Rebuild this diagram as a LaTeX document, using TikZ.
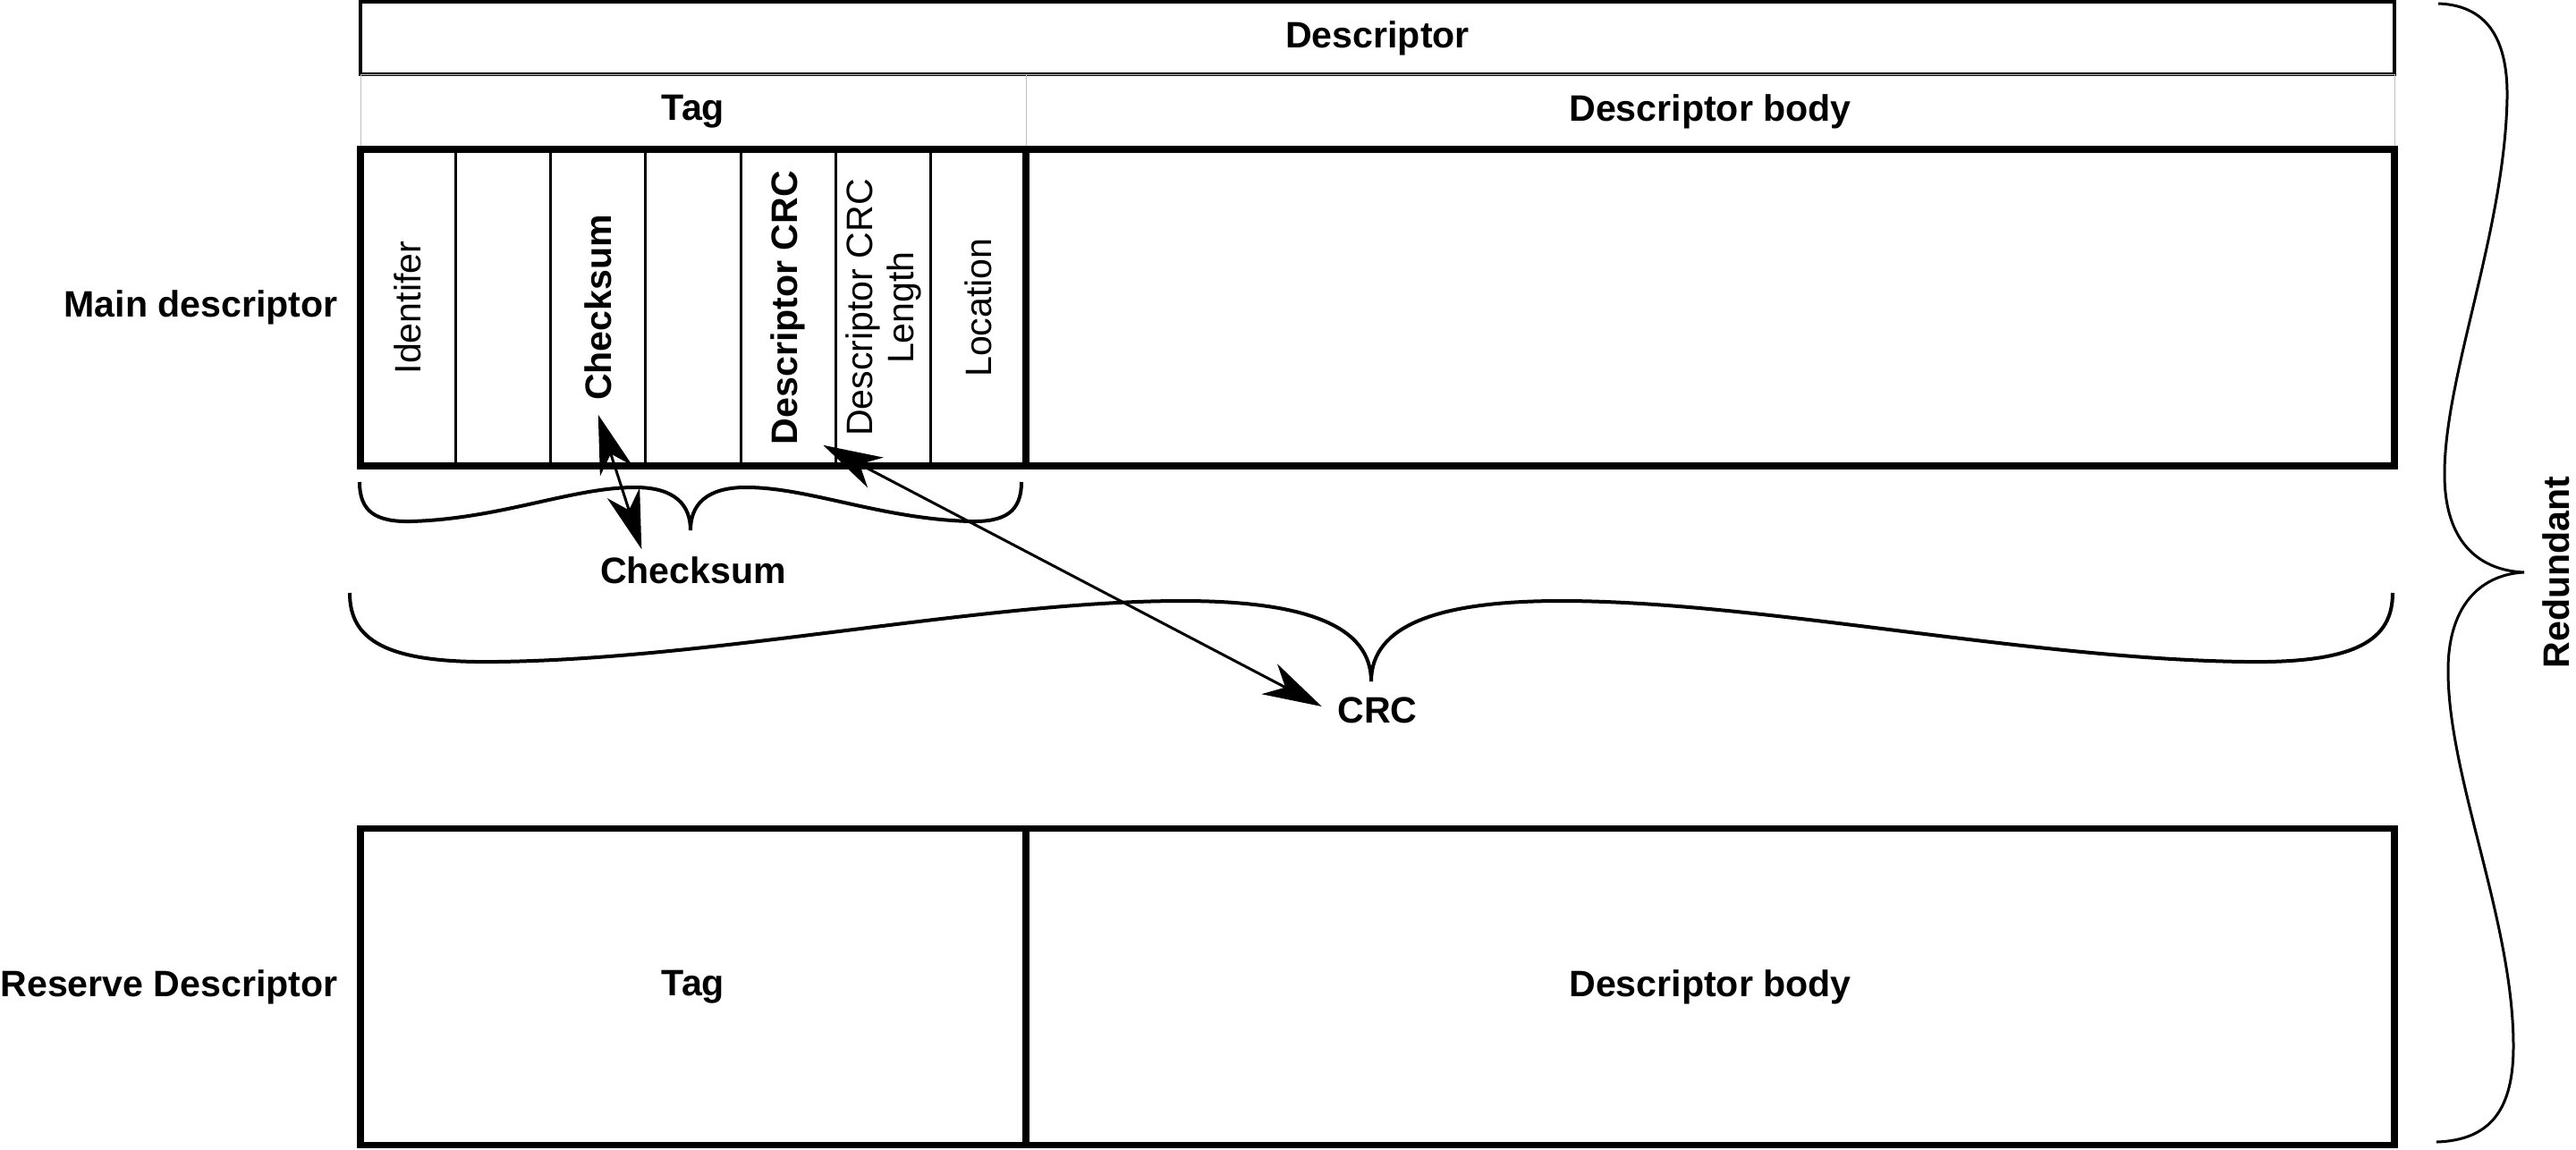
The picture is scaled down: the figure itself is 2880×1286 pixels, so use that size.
\documentclass[tikz,border=0pt]{standalone}
\usepackage{fontspec}
\setmainfont{Liberation Sans}
\usetikzlibrary{arrows.meta,positioning}

\begin{document}
\fontsize{11.7pt}{13pt}\selectfont
\begin{tikzpicture}[x=0.1mm,y=-0.1mm,
  lbl/.style={font=\bfseries,inner sep=0pt},
  hdr/.style={draw=black!25,line width=0.1mm,minimum height=8.4mm,font=\bfseries},
  cell/.style={draw,line width=0.3mm,minimum width=10.63mm,minimum height=35.4mm},
  vtxt/.style={rotate=90,align=center,inner sep=0pt},
  heavy/.style={draw,line width=0.72mm,minimum height=35.4mm,font=\bfseries},
  brc/.style={line width=0.4mm},
  lnk/.style={line width=0.3mm,
    {Stealth[length=6.6mm,width=3.8mm,inset=2mm]}-{Stealth[length=6.6mm,width=3.8mm,inset=2mm]}}]
 \useasboundingbox (0,0) rectangle (2880,1286);
 % header rows
 \node[draw,line width=0.35mm,minimum width=227.4mm,minimum height=8.1mm,font=\bfseries]
   (desc) at (1540,42.5) {Descriptor};
 \node[hdr,minimum width=74.4mm] (taghd) at (775,125) {Tag};
 \node[hdr,minimum width=153mm] (bodyhd) at (1912,125) {Descriptor body};
 % tag fields of the main descriptor
 \foreach \i in {1,...,7}
   \node[cell] (f\i) at ({403+106.3*(\i-0.5)},344) {};
 \node[vtxt] (idf) at (f1) {Identifer};
 \node[vtxt,font=\bfseries] (cks) at (f3) {Checksum};
 \node[vtxt,font=\bfseries] (dcrc) at (f5) {Descriptor CRC};
 \node[vtxt] (dlen) at (f6) {Descriptor CRC\\Length};
 \node[vtxt] (loc) at (f7) {Location};
 \node[heavy,minimum width=74.4mm] (mtag) at (775,344) {};
 \node[heavy,minimum width=153mm] (mbody) at (1912,344) {};
 \node[lbl,left=2.1mm of mtag] (mainlbl) {Main descriptor};
 % reserve copy
 \node[heavy,minimum width=74.4mm] (rtag) at (775,1103.5) {Tag};
 \node[heavy,minimum width=153mm] (rbody) at (1912,1103.5) {Descriptor body};
 \node[lbl,left=2.1mm of rtag] (reslbl) {Reserve Descriptor};
 % braces
 \draw[brc] (402,539) .. controls (402,572) and (420,584) .. (460,583)
   .. controls (560,580) and (640,545) .. (710,545)
   .. controls (755,545) and (772,565) .. (772,593)
   .. controls (772,565) and (789,545) .. (834,545)
   .. controls (904,545) and (984,580) .. (1084,583)
   .. controls (1124,584) and (1142,572) .. (1142,539);
 \node[lbl] (cslbl) at (775,638) {Checksum};
 \draw[brc] (391,663) .. controls (391,715) and (430,742) .. (556,740)
   .. controls (800,737) and (1100,672) .. (1321,672)
   .. controls (1460,672) and (1533,700) .. (1533,762)
   .. controls (1533,700) and (1606,672) .. (1745,672)
   .. controls (1966,672) and (2266,737) .. (2510,740)
   .. controls (2636,742) and (2675,715) .. (2675,663);
 \node[lbl] (crclbl) at (1540,794) {CRC};
 \draw[line width=0.3mm] (2726,4) .. controls (2785,6) and (2804,50) .. (2803,110)
   .. controls (2800,260) and (2733,420) .. (2733,530)
   .. controls (2733,610) and (2775,638) .. (2822,640)
   .. controls (2778,642) and (2737,672) .. (2737,750)
   .. controls (2737,870) and (2810,1030) .. (2810,1170)
   .. controls (2810,1240) and (2785,1275) .. (2724,1277);
 \node[lbl,rotate=90,anchor=north] (red) at (2842,640) {Redundant};
 % links
 \coordinate (csa) at ([yshift=-1.5mm]cks.west);
 \coordinate (csb) at ([shift={(4.7mm,0.8mm)}]cslbl.north west);
 \draw[lnk] (csa) -- (csb);
 \coordinate (crca) at ([xshift=3.9mm]dcrc.west);
 \coordinate (crcb) at ([shift={(-1.7mm,0.4mm)}]crclbl.west);
 \draw[lnk] (crca) -- (crcb);
\end{tikzpicture}
\end{document}
